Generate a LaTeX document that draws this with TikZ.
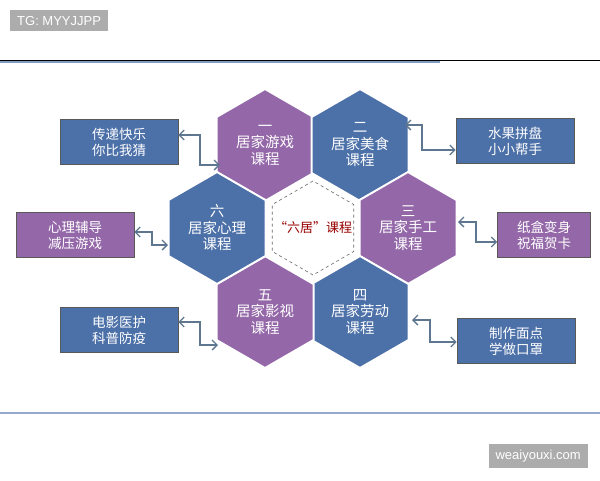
\documentclass[tikz,border=0pt]{standalone}
\usepackage{fontspec}
\setmainfont{Liberation Sans}
\newfontfamily\cjk{Noto Sans CJK SC}
\usetikzlibrary{shapes.geometric, positioning, arrows.meta}
\definecolor{hexpurple}{HTML}{9468A8}
\definecolor{hexblue}{HTML}{4C70A8}
\definecolor{linkgray}{HTML}{5E7690}
\tikzset{
  hexcell/.style={regular polygon, regular polygon sides=6, shape border rotate=30, minimum size=112pt, inner sep=0pt,
    draw=white, line width=2pt, text=white, font=\cjk\fontsize{14.5}{16.5}\selectfont, align=center},
  sidebox/.style={draw=gray!70!black, line width=0.6pt, minimum width=118pt, minimum height=45pt,
    text=white, font=\cjk\fontsize{13.5}{16}\selectfont, align=center},
  link/.style={linkgray, line width=1.3pt, {Straight Barb[length=5pt]}-{Straight Barb[length=5pt]}},
  tag/.style={fill=gray!65, text=white, font=\fontsize{13}{15}\selectfont, inner xsep=7pt, inner ysep=6pt}
}
\begin{document}
\begin{tikzpicture}[x=1pt, y=-1pt]
\useasboundingbox (0,0) rectangle (600,480);
\fill[white] (0,0) rectangle (600,480);
% frame lines
\draw[black, line width=0.8pt] (0,60) -- (600,60);
\draw[hexblue!70, line width=1.5pt] (0,62) -- (440,62);
\draw[hexblue!60, line width=2pt] (0,413) -- (600,413);
\node[tag, anchor=north west] (tg) at (10,10) {TG: MYYJJPP};
\node[tag, anchor=south east] (web) at (588,468) {weaiyouxi.com};

% hexagons
\node[hexcell, fill=hexpurple] (h1) at (265,145) {一\\居家游戏\\课程};
\node[hexcell, fill=hexblue] (h2) at (360,145) {二\\居家美食\\课程};
\node[hexcell, fill=hexpurple] (h3) at (408,228) {三\\居家手工\\课程};
\node[hexcell, fill=hexblue] (h4) at (360,312) {四\\居家劳动\\课程};
\node[hexcell, fill=hexpurple] (h5) at (265,312) {五\\居家影视\\课程};
\node[hexcell, fill=hexblue] (h6) at (217,228) {六\\居家心理\\课程};
\node[regular polygon, regular polygon sides=6, shape border rotate=30, minimum size=94pt, inner sep=0pt,
  draw=gray!80!black, line width=0.6pt, dashed, fill=white] (core) at (313,228) {};
\node[font=\cjk\fontsize{13}{15}\selectfont, text=red!60!black] (corelabel) at (core.center) {“六居”课程};

% side boxes
\node[sidebox, fill=hexblue] (b1) at (119,142) {传递快乐\\你比我猜};
\node[sidebox, fill=hexpurple] (b6) at (75,235) {心理辅导\\减压游戏};
\node[sidebox, fill=hexblue] (b5) at (119,330) {电影医护\\科普防疫};
\node[sidebox, fill=hexblue] (b2) at (515,141) {水果拼盘\\小小帮手};
\node[sidebox, fill=hexpurple, minimum width=93pt] (b3) at (544,235) {纸盒变身\\祝福贺卡};
\node[sidebox, fill=hexblue] (b4) at (516,341) {制作面点\\学做口罩};

% connectors
\draw[link] (b1.east |- 0,135) -| (200,165) -- (220,165);
\draw[link] (b6.east |- 0,232) -| (152,245) -- (168,245);
\draw[link] (b5.east |- 0,322) -| (200,345) -- (218,345);
\draw[link] (405,125) -| (422,150) -- (b2.west |- 0,150);
\draw[link] (458,222) -| (476,242) -- (b3.west |- 0,242);
\draw[link] (412,320) -| (430,342) -- (b4.west |- 0,342);
\end{tikzpicture}
\end{document}
